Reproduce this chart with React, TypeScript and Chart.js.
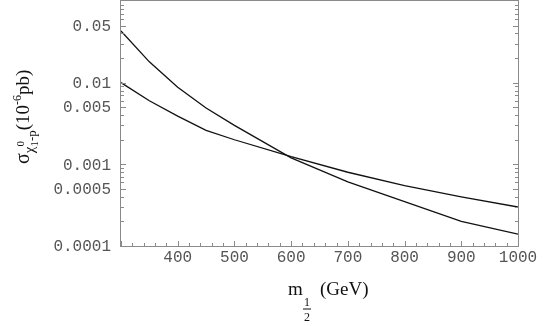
import React, { useEffect, useRef } from "react";
import { Chart, registerables } from "chart.js";

Chart.register(...registerables);

// ---- data ----
const mValues = [300, 350, 400, 450, 500, 600, 700, 800, 900, 1000];
const sigmaUpper = [0.043, 0.018, 0.0088, 0.0049, 0.003, 0.0012, 0.00061, 0.00035, 0.0002, 0.00014];
const sigmaLower = [0.01, 0.006, 0.0039, 0.0026, 0.002, 0.00124, 0.0008, 0.00055, 0.0004, 0.0003];

const xTickValues = [400, 500, 600, 700, 800, 900, 1000];
const xTickLabels = ["400", "500", "600", "700", "800", "900", "1000"];
const yTickValues = [0.05, 0.01, 0.005, 0.001, 0.0005, 0.0001];
const yTickLabels = ["0.05", "0.01", "0.005", "0.001", "0.0005", "0.0001"];

const X_MIN = 300;
const X_MAX = 1000;
const Y_MIN = 0.0001;
const Y_MAX = 0.1;

const FRAME = "#8a8a8a";
const LABEL = "#555555";
const MONO = "'Liberation Mono', 'DejaVu Sans Mono', monospace";
const SERIF = "'Liberation Serif', 'DejaVu Serif', serif";

const framePlugin = {
  id: "framePlugin",
  afterDraw(chart: any) {
    const ctx: CanvasRenderingContext2D = chart.ctx;
    const { left, right, top, bottom } = chart.chartArea;
    const xs = chart.scales.x;
    const ys = chart.scales.y;
    ctx.save();
    // frame
    ctx.strokeStyle = FRAME;
    ctx.lineWidth = 1;
    ctx.strokeRect(Math.round(left) - 0.5, Math.round(top) - 0.5, Math.round(right - left) + 1, Math.round(bottom - top) + 1);

    // x ticks (bottom, inward)
    ctx.beginPath();
    for (let v = X_MIN; v <= X_MAX; v += 20) {
      const px = Math.round(xs.getPixelForValue(v)) + 0.5;
      const major = v % 100 === 0;
      const len = major ? 5 : 3;
      ctx.moveTo(px, bottom);
      ctx.lineTo(px, bottom - len);
    }
    // y ticks (left and right, inward)
    for (let d = -4; d <= -2; d++) {
      for (let k = 1; k <= 9; k++) {
        const v = k * Math.pow(10, d);
        if (v < Y_MIN * 0.999 || v > Y_MAX * 1.001) continue;
        const py = Math.round(ys.getPixelForValue(v)) + 0.5;
        const major = k === 1 || k === 5;
        const len = major ? 5 : 3;
        ctx.moveTo(left, py);
        ctx.lineTo(left + len, py);
        ctx.moveTo(right, py);
        ctx.lineTo(right - len, py);
      }
    }
    ctx.stroke();

    // tick labels
    ctx.fillStyle = LABEL;
    ctx.font = `16px ${MONO}`;
    ctx.textAlign = "center";
    ctx.textBaseline = "middle";
    xTickValues.forEach((v, i) => {
      ctx.fillText(xTickLabels[i], xs.getPixelForValue(v), bottom + 12);
    });
    ctx.textAlign = "right";
    yTickValues.forEach((v, i) => {
      ctx.fillText(yTickLabels[i], left - 10, ys.getPixelForValue(v) + 1);
    });

    // x axis title: m_{1/2} (GeV)
    ctx.fillStyle = "#111";
    ctx.textAlign = "left";
    ctx.textBaseline = "alphabetic";
    ctx.font = `19px ${SERIF}`;
    ctx.fillText("m", 288, 295);
    ctx.font = `12px ${SERIF}`;
    ctx.textAlign = "center";
    ctx.fillText("1", 307, 306);
    ctx.fillText("2", 307, 321);
    ctx.fillRect(303, 308.5, 8, 1);
    ctx.textAlign = "left";
    ctx.font = `19px ${SERIF}`;
    ctx.fillText("(GeV)", 320, 295);

    // y axis title (rotated)
    ctx.save();
    ctx.translate(29, 164);
    ctx.rotate(-Math.PI / 2);
    let x = 0;
    const seg = (t: string, size: number, dy: number) => {
      ctx.font = `${size}px ${SERIF}`;
      ctx.fillText(t, x, dy);
      x += ctx.measureText(t).width;
    };
    seg("σ", 20, 0);
    seg("χ", 15, 5);
    const sx = x;
    ctx.font = `11px ${SERIF}`;
    ctx.fillText("0", sx, -5);
    seg("1", 11, 9);
    seg("-p", 13, 7);
    seg("(10", 19, 0);
    seg("-6", 12, -8);
    seg("pb)", 19, 0);
    ctx.restore();

    ctx.restore();
  },
};

export default function App() {
  const ref = useRef<HTMLCanvasElement | null>(null);
  useEffect(() => {
    document.body.style.margin = "0";
    if (!ref.current) return;
    const chart = new Chart(ref.current, {
      type: "line",
      data: {
        datasets: [
          {
            data: mValues.map((m, i) => ({ x: m, y: sigmaUpper[i] })),
            borderColor: "#111",
            borderWidth: 1.3,
            pointRadius: 0,
            tension: 0,
            fill: false,
          },
          {
            data: mValues.map((m, i) => ({ x: m, y: sigmaLower[i] })),
            borderColor: "#111",
            borderWidth: 1.3,
            pointRadius: 0,
            tension: 0,
            fill: false,
          },
        ],
      },
      options: {
        animation: false,
        responsive: false,
        devicePixelRatio: 1,
        layout: { padding: { left: 121, right: 27, top: 1, bottom: 80 } },
        plugins: { legend: { display: false }, tooltip: { enabled: false } },
        scales: {
          x: { type: "linear", min: X_MIN, max: X_MAX, display: false },
          y: { type: "logarithmic", min: Y_MIN, max: Y_MAX, display: false },
        },
      },
      plugins: [framePlugin],
    });
    return () => chart.destroy();
  }, []);
  return (
    <div style={{ position: "absolute", left: 0, top: 0, width: 545, height: 326, background: "#fff" }}>
      <canvas ref={ref} width={545} height={326} />
    </div>
  );
}
